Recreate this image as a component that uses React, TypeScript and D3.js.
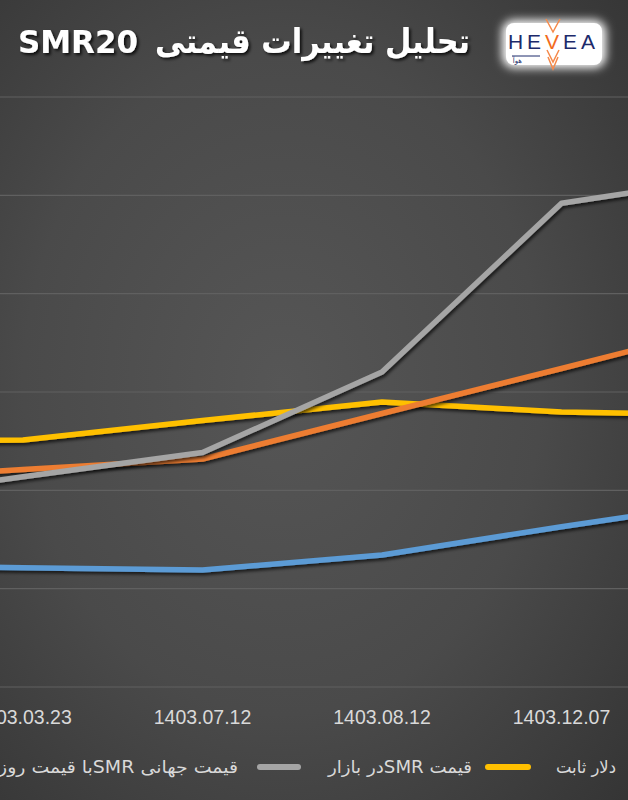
import React from "react";
import * as d3 from "d3";

// Category labels (index 0 and 5 are off-canvas points of the cropped chart)
const categories: string[] = ["", "1403.03.23", "1403.07.12", "1403.08.12", "1403.12.07", ""];

// Series values (in gridline units)
const blueValues: number[] = [1.24, 1.213, 1.19, 1.342, 1.63, 1.9];
const orangeValues: number[] = [2.087, 2.213, 2.319, 2.781, 3.239, 3.704];
const grayValues: number[] = [1.883, 2.138, 2.385, 3.203, 4.919, 5.197];
const yellowValues: number[] = [2.5, 2.512, 2.71, 2.898, 2.797, 2.766];

const gridTicks: number[] = [0, 1, 2, 3, 4, 5, 6];

const titleArabic = "تحلیل تغییرات قیمتی";
const titleLatin = "SMR20";
const legendTexts: string[] = ["قیمت جهانی SMRبا قیمت روز", "قیمت SMRدر بازار", "دلار ثابت"];

const W = 628;
const H = 800;

export default function App() {
  const idx = categories.map((_, i) => i);
  const step = 179.5;
  const first = 23;
  const x = d3
    .scalePoint<number>()
    .domain(idx)
    .range([first - step, first + step * (idx.length - 2)]);
  const y = d3.scaleLinear().domain([0, 6]).range([687, 97]);

  const line = d3
    .line<number>()
    .x((_, i) => x(i) as number)
    .y((d) => y(d));

  const series = [
    { values: blueValues, color: "#5b9bd5" },
    { values: yellowValues, color: "#ffc000" },
    { values: orangeValues, color: "#ed7d31" },
    { values: grayValues, color: "#a5a5a5" },
  ];

  const arabicFont = "'DejaVu Sans', sans-serif";
  const latinFont = "'Liberation Sans', Arial, sans-serif";

  return (
    <svg
      width={W}
      height={H}
      style={{ position: "absolute", left: 0, top: 0, display: "block" }}
      xmlns="http://www.w3.org/2000/svg"
    >
      <defs>
        <radialGradient id="bg" cx="45%" cy="48%" r="75%">
          <stop offset="0%" stopColor="#565656" />
          <stop offset="55%" stopColor="#4a4a4a" />
          <stop offset="100%" stopColor="#353535" />
        </radialGradient>
        <filter id="shadow" x="-10%" y="-10%" width="120%" height="130%">
          <feDropShadow dx="1.5" dy="2.5" stdDeviation="1.8" floodColor="#000" floodOpacity="0.65" />
        </filter>
        <filter id="tshadow" x="-10%" y="-20%" width="120%" height="150%">
          <feDropShadow dx="2" dy="2" stdDeviation="1.5" floodColor="#000" floodOpacity="0.8" />
        </filter>
        <filter id="blur" x="-30%" y="-40%" width="160%" height="180%">
          <feGaussianBlur stdDeviation="5" />
        </filter>
      </defs>

      <rect x={0} y={0} width={W} height={H} fill="url(#bg)" />

      {/* gridlines */}
      {gridTicks.map((t) => (
        <line key={t} x1={0} x2={W} y1={y(t)} y2={y(t)} stroke="#606060" strokeWidth={1.2} />
      ))}

      {/* series lines */}
      {series.map((s, i) => (
        <path
          key={i}
          d={line(s.values) || ""}
          fill="none"
          stroke={s.color}
          strokeWidth={5.5}
          strokeLinejoin="round"
          filter="url(#shadow)"
        />
      ))}

      {/* x-axis labels */}
      {categories.map((c, i) =>
        c ? (
          <text
            key={i}
            x={x(i) as number}
            y={724}
            textAnchor="middle"
            fill="#d9d9d9"
            fontSize={19.5}
            fontFamily={latinFont}
          >
            {c}
          </text>
        ) : null
      )}

      {/* title */}
      <g filter="url(#tshadow)" fill="#ffffff" fontWeight="bold">
        <text
          x={18}
          y={53}
          fontSize={32}
          fontFamily={arabicFont}
          textLength={120}
          lengthAdjust="spacingAndGlyphs"
        >
          {titleLatin}
        </text>
        <text
          x={470}
          y={53}
          fontSize={34}
          fontFamily={arabicFont}
          direction="rtl"
          textAnchor="start"
          textLength={315}
          lengthAdjust="spacingAndGlyphs"
        >
          {titleArabic}
        </text>
      </g>

      {/* logo */}
      <g>
        <rect x={502} y={20} width={104} height={48} rx={12} fill="#ffffff" filter="url(#blur)" />
        <rect x={506} y={23} width={96} height={42} rx={8} fill="#ffffff" />
        <path d="M546,19 L553,32 L560,19" fill="none" stroke="#f58a4b" strokeWidth={1.5} />
        <path d="M547,50 L553,62 L559,50" fill="none" stroke="#f58a4b" strokeWidth={1.5} />
        <path d="M548,57 L553,69 L558,57" fill="none" stroke="#f58a4b" strokeWidth={1.5} />
        <text
          x={508}
          y={49}
          fontSize={21}
          fontFamily={latinFont}
          fill="#1d2a6b"
          textLength={87}
          lengthAdjust="spacing"
        >
          HE<tspan fill="#f26b1d">V</tspan>EA
        </text>
        <line x1={512} x2={540} y1={56} y2={56} stroke="#1d2a6b" strokeWidth={1} />
        <text x={522} y={63} fontSize={7} fontFamily={arabicFont} fill="#1d2a6b" direction="rtl" textAnchor="start">
          هوآ
        </text>
      </g>

      {/* legend */}
      <g fontFamily={arabicFont} fontSize={17} fill="#d9d9d9">
        <text x={238} y={773} direction="rtl" textAnchor="start" textLength={240} lengthAdjust="spacingAndGlyphs">
          {legendTexts[0]}
        </text>
        <line x1={260} x2={298} y1={767} y2={767} stroke="#a5a5a5" strokeWidth={6} strokeLinecap="round" />
        <text x={472} y={773} direction="rtl" textAnchor="start" textLength={144} lengthAdjust="spacingAndGlyphs">
          {legendTexts[1]}
        </text>
        <line x1={488} x2={528} y1={767} y2={767} stroke="#ffc000" strokeWidth={6} strokeLinecap="round" />
        <text x={616} y={773} direction="rtl" textAnchor="start" textLength={60} lengthAdjust="spacingAndGlyphs">
          {legendTexts[2]}
        </text>
      </g>
    </svg>
  );
}
